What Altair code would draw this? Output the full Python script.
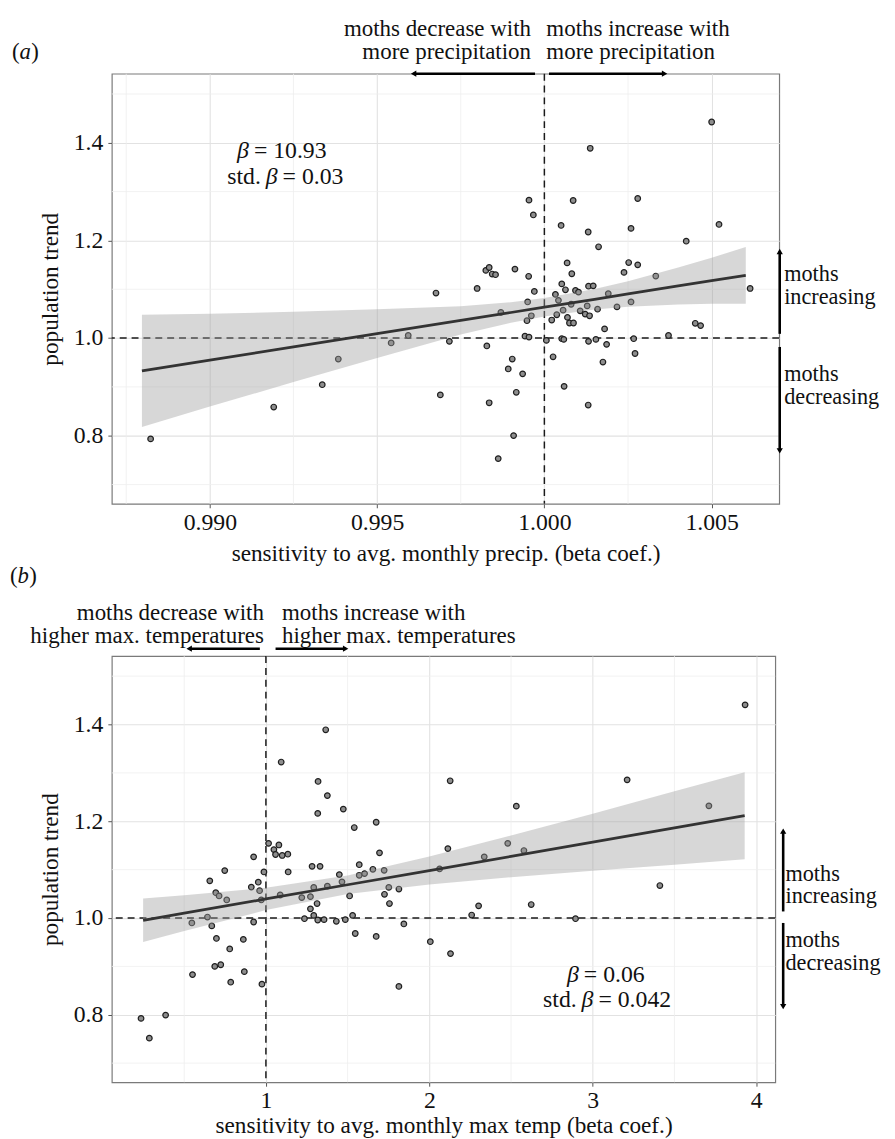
import altair as alt
import pandas as pd

FONT = "Liberation Serif"

# ---------------- panel (a): sensitivity to precipitation ----------------
precip_sens = [
    0.98823, 0.99191, 0.99336, 0.99384, 0.99542, 0.99593, 0.99676, 0.99689, 0.99716, 0.99799,
    0.99828, 0.99825, 0.99835, 0.99844, 0.99854, 0.99835, 0.99862, 0.99870, 0.99892, 0.99904,
    0.99912, 0.99908, 0.99916, 0.99935, 0.99942, 0.99948, 0.99950, 0.99953, 0.99954, 0.99954,
    0.99961, 0.99967, 0.99970, 1.00006, 1.00026, 1.00022, 1.00033, 1.00037, 1.00042, 1.00050,
    1.00052, 1.00056, 1.00052, 1.00058, 1.00059, 1.00063, 1.00068, 1.00069, 1.00075, 1.00080,
    1.00082, 1.00086, 1.00087, 1.00093, 1.00102, 1.00107, 1.00122, 1.00128, 1.00131, 1.00132,
    1.00135, 1.00137, 1.00132, 1.00131, 1.00146, 1.00154, 1.00159, 1.00162, 1.00175, 1.00180,
    1.00186, 1.00191, 1.00217, 1.00238, 1.00252, 1.00259, 1.00259, 1.00267, 1.00271, 1.00279,
    1.00279, 1.00333, 1.00371, 1.00424, 1.00451, 1.00467, 1.00500, 1.00522, 1.00615,
]
precip_trend = [
    0.7935, 0.8587, 0.9045, 0.9570, 0.9900, 1.0054, 1.0922, 0.8836, 0.9933, 1.1016,
    0.9839, 1.1386, 1.1446, 1.1312, 1.1298, 0.8675, 0.7531, 1.0525, 0.9368, 0.9570,
    1.1413, 0.8002, 0.8890, 0.9267, 1.0040, 1.0356, 1.0740, 1.1265, 1.2825, 1.0020,
    1.0457, 1.2522, 1.0955, 0.9953, 0.9617, 1.0370, 1.0895, 1.0478, 1.0773, 1.2307,
    1.1110, 1.0572, 0.9987, 0.9973, 0.9011, 1.0989, 1.1540, 1.0424, 1.0309, 1.0693,
    1.1318, 1.2818, 1.0309, 1.0975, 1.0942, 1.0558, 1.0491, 1.0659, 1.2173, 1.1063,
    1.0457, 1.3888, 0.9933, 0.8628, 1.1070, 0.9973, 1.0592, 1.1870, 0.9509, 1.0188,
    0.9872, 1.0908, 1.0639, 1.1345, 1.1547, 1.2247, 1.0740, 0.9987, 0.9684, 1.1500,
    1.2859, 1.1271, 1.0054, 1.1984, 1.0303, 1.0256, 1.4426, 1.2327, 1.1016,
]
precip_fit_x = [0.98797, 0.990, 0.9925, 0.995, 0.9975, 0.999, 1.000, 1.0015, 1.0025, 1.004, 1.005, 1.00602]
precip_fit = [0.9327, 0.9547, 0.9818, 1.0090, 1.0361, 1.0524, 1.0632, 1.0795, 1.0904, 1.1067, 1.1175, 1.1285]
precip_lo = [0.8177, 0.8597, 0.9098, 0.9590, 1.0071, 1.0314, 1.0442, 1.0585, 1.0644, 1.0687, 1.0705, 1.0705]
precip_hi = [1.0477, 1.0497, 1.0538, 1.0590, 1.0651, 1.0734, 1.0822, 1.1005, 1.1164, 1.1447, 1.1645, 1.1865]

# ---------------- panel (b): sensitivity to max temperature ----------------
temp_sens = [
    0.2358, 0.2866, 0.3862, 0.5508, 0.5467, 0.6423, 0.6565, 0.6687, 0.6931, 0.7134,
    0.6972, 0.6870, 0.7236, 0.7480, 0.7602, 0.7785, 0.7846, 0.8618, 0.8679, 0.9106,
    0.9248, 0.9248, 0.9533, 0.9614, 0.9715, 0.9756, 0.9878, 1.0163, 1.0488, 1.0793,
    1.0589, 1.0996, 1.1341, 1.1362, 1.0874, 1.0935, 1.2195, 1.2358, 1.2724, 1.2825,
    1.2927, 1.2724, 1.3130, 1.2927, 1.3171, 1.3191, 1.3171, 1.3313, 1.3557, 1.3659,
    1.3760, 1.3760, 1.4309, 1.4492, 1.4654, 1.4736, 1.4858, 1.5122, 1.5305, 1.5467,
    1.5407, 1.5711, 1.5711, 1.6037, 1.6545, 1.6748, 1.6748, 1.6951, 1.7236, 1.7256,
    1.7520, 1.7560, 1.8138, 1.8138, 1.8441, 2.0061, 2.0628, 2.1134, 2.1275, 2.1296,
    2.2591, 2.3016, 2.3360, 2.4798, 2.5324, 2.5789, 2.6235, 2.8947, 3.2105, 3.4108,
    3.7108, 3.9324,
]
temp_trend = [
    0.7925, 0.7517, 0.7993, 0.8830, 0.9898, 1.0020, 1.0769, 0.9837, 1.0524, 1.0456,
    0.9578, 0.9000, 0.9034, 1.0980, 1.0374, 0.9361, 0.8673, 0.9558, 0.8891, 1.0639,
    1.1265, 0.9918, 1.0741, 1.0565, 1.0374, 0.8633, 1.0952, 1.1544, 1.1415, 1.1510,
    1.1313, 1.1293, 1.1320, 1.0952, 1.0476, 1.3224, 1.0422, 0.9986, 1.0190, 1.1068,
    1.0633, 1.0442, 1.0299, 1.0054, 0.9959, 1.2823, 1.2163, 1.1068, 0.9966, 1.3891,
    1.2531, 1.0660, 0.9932, 1.0898, 1.0748, 1.2252, 0.9966, 1.0456, 1.0054, 0.9680,
    1.1871, 1.1102, 1.0884, 1.0918, 1.1007, 1.1980, 0.9619, 1.1347, 1.0986, 1.0490,
    1.0633, 1.0299, 1.0599, 0.8585, 0.9878, 0.9510, 1.1014, 1.1435, 1.2837, 0.9265,
    1.0061, 1.0252, 1.1265, 1.1544, 1.2313, 1.1395, 1.0279, 0.9986, 1.2857, 1.0671,
    1.2319, 1.4407,
]
temp_fit_x = [0.2486, 0.5, 1.0, 1.5, 2.0, 2.5, 3.0, 3.5, 3.9297]
temp_fit = [0.9953, 1.0101, 1.0394, 1.0688, 1.0981, 1.1275, 1.1568, 1.1862, 1.2115]
temp_lo = [0.9503, 0.9731, 1.0164, 1.0498, 1.0691, 1.0845, 1.0978, 1.1102, 1.1215]
temp_hi = [1.0403, 1.0471, 1.0624, 1.0878, 1.1271, 1.1705, 1.2158, 1.2622, 1.3015]

# ---------------- axes ----------------
y_domain = [0.6605, 1.5415]
y_ticks = [0.8, 1.0, 1.2, 1.4]
y_minor = [0.7, 0.9, 1.1, 1.3, 1.5]
a_xdomain = [0.98707, 1.00702]
a_xticks = [0.990, 0.995, 1.000, 1.005]
a_xminor = [0.9875, 0.9925, 0.9975, 1.0025]
b_xdomain = [0.057, 4.117]
b_xticks = [1, 2, 3, 4]
b_xminor = [0.5, 1.5, 2.5, 3.5]

# ---------------- annotation anchors (data units) ----------------
a_ref_x = 1.0
a_left_arrow = [0.99972, 0.99609]      # tail, head
a_right_arrow = [1.000139, 1.003594]
a_up_arrow = [1.0087, 1.1775]
a_down_arrow = [0.9818, 0.7690]
a_side_text_y = [1.1318, 1.0834, 0.9257, 0.8789]
a_beta_x = [0.990815, 0.991672]
a_beta_y = [1.3836, 1.3295]
a_beta_rhs = ["= 10.93", "= 0.03"]

b_ref_x = 1.0
b_left_arrow = [0.9628, 0.5303]
b_right_arrow = [1.059, 1.4879]
b_up_arrow = [1.0136, 1.1797]
b_down_arrow = [0.9898, 0.8169]
b_side_text_y = [1.0918, 1.0445, 0.9541, 0.9069]
b_beta_x = [2.8428, 2.9319]
b_beta_y = [0.8814, 0.8305]
b_beta_rhs = ["= 0.06", "= 0.042"]

side_words = ["moths", "increasing", "moths", "decreasing"]

INK = "#111111"


def one():
    return pd.DataFrame({"k": [0]})


def panel(sens, trend, fx, fit, lo, hi, xdomain, xticks, xminor, xfmt, xtitle,
          W, H, xtitle_y, ref_x, left_arrow, right_arrow, arrow_y,
          up_arrow, down_arrow, side_x, side_text_x, side_y,
          top_left_lines, top_right_lines, top_y, top_left_dx, top_right_dx,
          beta_x, beta_y, beta_rhs, tag, tag_x, tag_y):
    xs = alt.Scale(domain=xdomain, nice=False, zero=False)
    ys = alt.Scale(domain=y_domain, nice=False, zero=False)
    xa = alt.Axis(values=xticks, format=xfmt, title=xtitle, titleY=xtitle_y,
                  titleBaseline="alphabetic", labelPadding=3)
    ya = alt.Axis(values=y_ticks, format=".1f", title="population trend",
                  titleX=-62, titleBaseline="middle", labelPadding=5)

    def X(f):
        return alt.X(f"{f}:Q", scale=xs, axis=xa)

    def Y(f):
        return alt.Y(f"{f}:Q", scale=ys, axis=ya)

    layers = []
    layers.append(alt.Chart(pd.DataFrame({"x": xminor})).mark_rule(
        color="#eeeeee", strokeWidth=0.8).encode(x=X("x")))
    layers.append(alt.Chart(pd.DataFrame({"y": y_minor})).mark_rule(
        color="#eeeeee", strokeWidth=0.8).encode(y=Y("y")))
    # reference dashed lines
    layers.append(alt.Chart(pd.DataFrame({"y": [1.0]})).mark_rule(
        color="#1a1a1a", strokeWidth=1.5, strokeDash=[7, 5]).encode(y=Y("y")))
    layers.append(alt.Chart(pd.DataFrame({"x": [ref_x]})).mark_rule(
        color="#1a1a1a", strokeWidth=1.5, strokeDash=[7, 5]).encode(x=X("x")))
    # points
    pts = pd.DataFrame({"x": sens, "y": trend})
    layers.append(alt.Chart(pts).mark_circle(
        size=32, fill="#8e8e8e", stroke="#1e1e1e", strokeWidth=1.2, opacity=1
    ).encode(x=X("x"), y=Y("y")))
    # confidence band and fitted line
    fdf = pd.DataFrame({"x": fx, "fit": fit, "lo": lo, "hi": hi})
    layers.append(alt.Chart(fdf).mark_area(color="#9a9a9a", opacity=0.4).encode(
        x=X("x"), y=Y("lo"), y2="hi:Q"))
    layers.append(alt.Chart(fdf).mark_line(color="#333333", strokeWidth=2.8).encode(
        x=X("x"), y=Y("fit")))
    # top arrows
    arr = pd.DataFrame({"x": [left_arrow[0], right_arrow[0]],
                        "x2": [left_arrow[1], right_arrow[1]]})
    layers.append(alt.Chart(arr).mark_rule(color="black", strokeWidth=2.6).encode(
        x=X("x"), x2="x2:Q", y=alt.value(arrow_y)))
    layers.append(alt.Chart(pd.DataFrame({"x": [left_arrow[1]]})).mark_point(
        shape="triangle-left", filled=True, color="black", size=40, opacity=1).encode(
        x=X("x"), y=alt.value(arrow_y)))
    layers.append(alt.Chart(pd.DataFrame({"x": [right_arrow[1]]})).mark_point(
        shape="triangle-right", filled=True, color="black", size=40, opacity=1).encode(
        x=X("x"), y=alt.value(arrow_y)))
    # side arrows
    sarr = pd.DataFrame({"y": [up_arrow[0], down_arrow[0]],
                         "y2": [up_arrow[1], down_arrow[1]]})
    layers.append(alt.Chart(sarr).mark_rule(color="black", strokeWidth=2.6).encode(
        x=alt.value(side_x), y=Y("y"), y2="y2:Q"))
    layers.append(alt.Chart(pd.DataFrame({"y": [up_arrow[1]]})).mark_point(
        shape="triangle-up", filled=True, color="black", size=40, opacity=1).encode(
        x=alt.value(side_x), y=Y("y")))
    layers.append(alt.Chart(pd.DataFrame({"y": [down_arrow[1]]})).mark_point(
        shape="triangle-down", filled=True, color="black", size=40, opacity=1).encode(
        x=alt.value(side_x), y=Y("y")))
    # side words
    layers.append(alt.Chart(pd.DataFrame({"y": side_y, "t": side_words})).mark_text(
        align="left", baseline="middle", font=FONT, fontSize=22.5, color=INK).encode(
        x=alt.value(side_text_x), y=Y("y"), text="t:N"))
    # top captions
    for i, (tl, tr) in enumerate(zip(top_left_lines, top_right_lines)):
        layers.append(alt.Chart(pd.DataFrame({"x": [ref_x]})).mark_text(
            align="right", baseline="middle", font=FONT, fontSize=23.2, color=INK,
            dx=top_left_dx).encode(x=X("x"), y=alt.value(top_y[i]), text=alt.value(tl)))
        layers.append(alt.Chart(pd.DataFrame({"x": [ref_x]})).mark_text(
            align="left", baseline="middle", font=FONT, fontSize=23.2, color=INK,
            dx=top_right_dx).encode(x=X("x"), y=alt.value(top_y[i]), text=alt.value(tr)))
    # beta annotation
    bdf = pd.DataFrame({"x": beta_x, "y": beta_y, "rhs": beta_rhs})
    layers.append(alt.Chart(bdf).mark_text(
        align="left", baseline="middle", font=FONT, fontSize=24, fontStyle="italic",
        color=INK).encode(x=X("x"), y=Y("y"), text=alt.value("β")))
    layers.append(alt.Chart(bdf).mark_text(
        align="left", baseline="middle", font=FONT, fontSize=24, color=INK, dx=17).encode(
        x=X("x"), y=Y("y"), text="rhs:N"))
    layers.append(alt.Chart(bdf.iloc[[1]]).mark_text(
        align="right", baseline="middle", font=FONT, fontSize=24, color=INK, dx=-5).encode(
        x=X("x"), y=Y("y"), text=alt.value("std.")))
    # panel tag "(a)" / "(b)" with italic letter
    for piece, dx, style in [("(", 0, "normal"), (tag, 7.7, "italic"), (")", 19.5, "normal")]:
        layers.append(alt.Chart(one()).mark_text(
            align="left", baseline="middle", font=FONT, fontSize=23, color=INK,
            fontStyle=style, dx=dx).encode(
            x=alt.value(tag_x), y=alt.value(tag_y), text=alt.value(piece)))
    return alt.layer(*layers).properties(width=W, height=H)


panel_a = panel(
    precip_sens, precip_trend, precip_fit_x, precip_fit, precip_lo, precip_hi,
    a_xdomain, a_xticks, a_xminor, ".3f",
    "sensitivity to avg. monthly precip. (beta coef.)",
    675, 435, 57, a_ref_x, a_left_arrow, a_right_arrow, 0,
    a_up_arrow, a_down_arrow, 675.5, 680, a_side_text_y,
    ["moths decrease with", "more precipitation"],
    ["moths increase with", "more precipitation"],
    [-45.3, -22], -13.5, 2,
    a_beta_x, a_beta_y, a_beta_rhs, "a", -101, -22)

panel_b = panel(
    temp_sens, temp_trend, temp_fit_x, temp_fit, temp_lo, temp_hi,
    b_xdomain, b_xticks, b_xminor, "d",
    "sensitivity to avg. monthly max temp (beta coef.)",
    671, 431, 51, b_ref_x, b_left_arrow, b_right_arrow, -7.5,
    b_up_arrow, b_down_arrow, 679, 681.3, b_side_text_y,
    ["moths decrease with", "higher max. temperatures"],
    ["moths increase with", "higher max. temperatures"],
    [-43.8, -20.5], -2, 16.3,
    b_beta_x, b_beta_y, b_beta_rhs, "b", -103, -80.5)

chart = alt.vconcat(panel_a, panel_b, spacing=154, bounds="flush").properties(
    padding={"left": 1, "top": 2, "right": 5, "bottom": 0}
).configure_view(
    stroke="#7a7a7a", strokeWidth=1.2
).configure_axis(
    grid=True, gridColor="#e2e2e2", gridWidth=1.1, domain=False,
    tickColor="#555555", tickSize=4, tickWidth=1,
    labelFont=FONT, labelFontSize=24, labelColor=INK, labelFlush=False,
    titleFont=FONT, titleFontSize=23.5, titleFontWeight="normal", titleColor=INK,
)

chart.save("out.html", embed_options={"renderer": "svg", "actions": False})
